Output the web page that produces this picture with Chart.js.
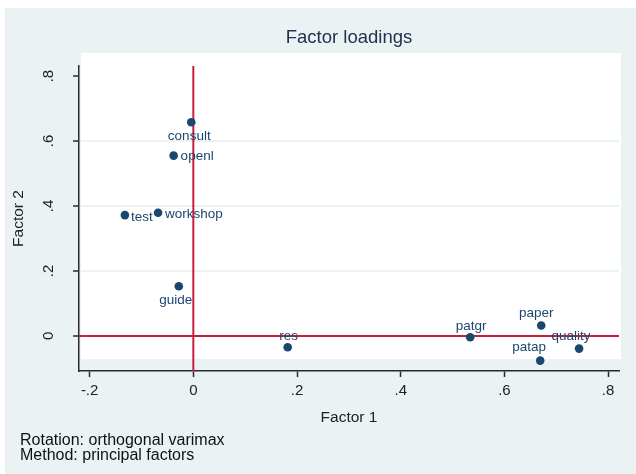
<!DOCTYPE html>
<html>
<head>
<meta charset="utf-8">
<title>Factor loadings</title>
<script src="https://cdn.jsdelivr.net/npm/chart.js@4.4.1/dist/chart.umd.min.js"></script>
<style>
    html, body { margin: 0; padding: 0; background: #ffffff; }
    canvas { display: block; }
</style>
</head>
<body>
<canvas id="loadingsChart" width="636" height="474"></canvas>
<script>
// data
const variables = ['consult', 'openl', 'test', 'workshop', 'guide', 'res', 'patgr', 'paper', 'quality', 'patap'];
const factor1   = [-0.004, -0.038, -0.132, -0.068, -0.028, 0.182, 0.534, 0.671, 0.744, 0.669];
const factor2   = [0.658, 0.555, 0.372, 0.379, 0.153, -0.035, -0.004, 0.032, -0.039, -0.076];

const xTicks = [-0.2, 0, 0.2, 0.4, 0.6, 0.8];
const yTicks = [0, 0.2, 0.4, 0.6, 0.8];
const yGrid  = [0.2, 0.4, 0.6];
const xRange = [-0.2205, 0.821];
const yRange = [-0.108, 0.831];

// marker label placement (pixels from the marker)
const labelPlace = [
    { dx: -2,  dy: 14,  align: 'center' },
    { dx: 7,   dy: 1,   align: 'left' },
    { dx: 6,   dy: 2,   align: 'left' },
    { dx: 7,   dy: 1,   align: 'left' },
    { dx: -3,  dy: 14,  align: 'center' },
    { dx: 1,   dy: -11, align: 'center' },
    { dx: 1,   dy: -11, align: 'center' },
    { dx: -5,  dy: -12, align: 'center' },
    { dx: -8,  dy: -12, align: 'center' },
    { dx: -11, dy: -13, align: 'center' }
];

const FONT      = "'Liberation Sans', Arial, Helvetica, sans-serif";
const bgColor   = '#eaf2f3';
const navy      = '#1a476f';
const refRed    = '#c81e3c';
const axisColor = '#2a2a2a';

const fmtTick = (v) => {
    if (Math.abs(v) < 1e-9) return '0';
    return String(Math.round(v * 10) / 10).replace('0.', '.');
};

const points = factor1.map((x, i) => ({ x: x, y: factor2[i] }));

const stataFrame = {
    id: 'stataFrame',
    beforeDraw(chart) {
        const ctx = chart.ctx;
        ctx.save();
        ctx.fillStyle = '#ffffff';
        ctx.fillRect(0, 0, chart.width, chart.height);
        ctx.fillStyle = bgColor;
        ctx.fillRect(5, 8, chart.width - 5, chart.height - 8);
        ctx.fillStyle = '#ffffff';
        ctx.fillRect(81, 53, 540, 306);
        ctx.restore();
    },
    afterDatasetsDraw(chart) {
        const ctx  = chart.ctx;
        const meta = chart.getDatasetMeta(0);
        ctx.save();
        ctx.font = `13.5px ${FONT}`;
        ctx.fillStyle = navy;
        ctx.textBaseline = 'middle';
        meta.data.forEach((pt, i) => {
            const p = labelPlace[i];
            ctx.textAlign = p.align;
            ctx.fillText(variables[i], pt.x + p.dx, pt.y + p.dy);
        });
        ctx.restore();
    },
    afterDraw(chart) {
        const ctx = chart.ctx;
        const ys  = chart.scales.y;
        const ca  = chart.chartArea;
        ctx.save();

        // y tick labels, rotated like Stata
        ctx.font = `15px ${FONT}`;
        ctx.fillStyle = '#222222';
        ctx.textAlign = 'center';
        ctx.textBaseline = 'alphabetic';
        yTicks.forEach(v => {
            ctx.save();
            ctx.translate(53, ys.getPixelForValue(v));
            ctx.rotate(-Math.PI / 2);
            ctx.fillText(fmtTick(v), 0, 0);
            ctx.restore();
        });

        // title
        ctx.font = `18.5px ${FONT}`;
        ctx.fillStyle = '#243252';
        ctx.fillText('Factor loadings', 349, 42.5);

        // axis titles
        ctx.font = `15.5px ${FONT}`;
        ctx.fillStyle = '#222222';
        ctx.fillText('Factor 1', (ca.left + ca.right) / 2, 422);
        ctx.save();
        ctx.translate(22.5, (ca.top + ca.bottom) / 2);
        ctx.rotate(-Math.PI / 2);
        ctx.fillText('Factor 2', 0, 0);
        ctx.restore();

        // note
        ctx.font = `16px ${FONT}`;
        ctx.textAlign = 'left';
        ctx.fillStyle = '#111111';
        ctx.fillText('Rotation: orthogonal varimax', 20, 445);
        ctx.fillText('Method: principal factors', 20, 460);

        ctx.restore();
    }
};

const ctx = document.getElementById('loadingsChart').getContext('2d');
const loadingsChart = new Chart(ctx, {
    type: 'scatter',
    data: {
        datasets: [
            {
                label: 'loadings',
                data: points,
                pointRadius: 4.3,
                pointHoverRadius: 4.3,
                pointBackgroundColor: navy,
                pointBorderColor: navy,
                pointBorderWidth: 0,
                clip: false
            },
            {
                label: 'x = 0',
                type: 'line',
                data: [{ x: 0, y: yRange[0] }, { x: 0, y: yRange[1] }],
                borderColor: refRed,
                borderWidth: 2,
                pointRadius: 0,
                clip: false
            },
            {
                label: 'y = 0',
                type: 'line',
                data: [{ x: xRange[0], y: 0 }, { x: xRange[1], y: 0 }],
                borderColor: refRed,
                borderWidth: 2,
                pointRadius: 0,
                clip: false
            }
        ]
    },
    options: {
        responsive: false,
        animation: false,
        devicePixelRatio: 1,
        layout: { padding: { left: 0, top: 66, right: 17, bottom: 0 } },
        plugins: {
            legend: { display: false },
            tooltip: { enabled: false }
        },
        scales: {
            x: {
                type: 'linear',
                min: xRange[0],
                max: xRange[1],
                afterBuildTicks: (scale) => { scale.ticks = xTicks.map(v => ({ value: v })); },
                afterFit: (scale) => { scale.height = 103; },
                grid: {
                    drawOnChartArea: false,
                    drawTicks: true,
                    tickLength: 6,
                    tickColor: axisColor,
                    tickWidth: 1.5
                },
                border: { display: true, color: axisColor, width: 1.5 },
                ticks: {
                    color: '#222222',
                    padding: 5,
                    maxRotation: 0,
                    font: { family: FONT, size: 15 },
                    callback: (v) => fmtTick(v)
                }
            },
            y: {
                type: 'linear',
                min: yRange[0],
                max: yRange[1],
                afterBuildTicks: (scale) => { scale.ticks = yTicks.map(v => ({ value: v })); },
                afterFit: (scale) => { scale.width = 79; },
                grid: {
                    drawOnChartArea: true,
                    drawTicks: true,
                    tickLength: 6,
                    tickColor: axisColor,
                    tickWidth: 1.5,
                    lineWidth: 2,
                    color: (c) => (c.tick && yGrid.some(g => Math.abs(g - c.tick.value) < 1e-9)) ? bgColor : 'rgba(0,0,0,0)'
                },
                border: { display: true, color: axisColor, width: 1.5 },
                ticks: { display: false }
            }
        }
    },
    plugins: [stataFrame]
});
</script>
</body>
</html>
